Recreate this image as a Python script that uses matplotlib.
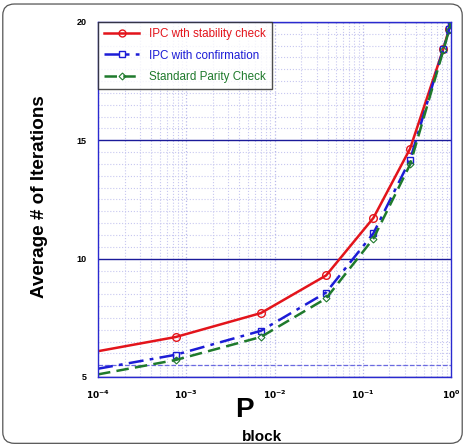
import numpy as np
import matplotlib.pyplot as plt
from matplotlib.patches import FancyBboxPatch
from matplotlib.ticker import FixedLocator, MultipleLocator, LogLocator, NullFormatter

plt.rcParams['font.family'] = ['Liberation Sans', 'DejaVu Sans']

# values
p_block = [1e-4, 7.6e-4, 7.0e-3, 0.0384, 0.132, 0.344, 0.818, 0.95, 1.0]
iters_stability = [6.09, 6.69, 7.70, 9.29, 11.72, 14.65, 18.86, 19.70, 20.0]
iters_confirm = [5.35, 5.94, 6.95, 8.57, 11.07, 14.18, 18.86, 19.70, 20.0]
iters_standard = [5.11, 5.72, 6.69, 8.32, 10.85, 13.98, 18.80, 19.66, 20.0]
labels = ['IPC wth stability check', 'IPC with confirmation', 'Standard Parity Check']
ref_level = 5.5

red = '#e3141b'
blue = '#1c1cd6'
green = '#1f7a2c'
navy = '#1a1a9a'

fig = plt.figure(figsize=(4.65, 4.46), dpi=100)
ax = fig.add_axes([98 / 465, 1 - 377 / 446, 353 / 465, 355 / 446])

# rounded frame round the figure
fig.patches.append(FancyBboxPatch((0.006, 0.006), 0.988, 0.985, boxstyle='round,pad=0,rounding_size=0.025',
                                  transform=fig.transFigure, fill=False, ec='#555555', lw=0.9))

ax.plot(p_block[1:-1], iters_stability[1:-1], ls='none', marker='o', ms=5.5, mfc='none', mec=red, mew=1)
ax.plot(p_block, iters_stability, color=red, lw=1.8, label=labels[0])
ax.plot(p_block, iters_confirm, color=blue, lw=1.8, ls=(0, (6, 2.5, 1.5, 2.5)), marker='s', ms=5, mfc='none',
        mec=blue, mew=1, markevery=list(range(1, len(p_block))), label=labels[1])
ax.plot(p_block, iters_standard, color=green, lw=1.8, ls=(0, (5, 2.5)), marker='D', ms=3.5, mfc='none',
        mec=green, mew=0.8, markevery=list(range(1, len(p_block))), label=labels[2])

ax.set_xscale('log')
ax.set_xlim(1e-4, 1)
ax.set_ylim(5, 20)

ax.xaxis.set_major_locator(LogLocator(base=10, numticks=10))
ax.xaxis.set_minor_locator(LogLocator(base=10, subs=np.arange(2, 10), numticks=10))
ax.xaxis.set_minor_formatter(NullFormatter())
ax.set_xticks([1e-4, 1e-3, 1e-2, 1e-1, 1])
ax.set_xticklabels([r'$\mathbf{10^{-4}}$', r'$\mathbf{10^{-3}}$', r'$\mathbf{10^{-2}}$',
                    r'$\mathbf{10^{-1}}$', r'$\mathbf{10^{0}}$'])
ax.yaxis.set_major_locator(FixedLocator([5, 10, 15, 20]))
ax.yaxis.set_minor_locator(MultipleLocator(0.5))

ax.grid(which='minor', color='#c8c8f0', ls=':', lw=0.8)
ax.grid(which='major', axis='x', color='#b8b8ea', ls=':', lw=0.9)
ax.grid(which='major', axis='y', color=navy, ls='-', lw=1.0)
ax.axhline(ref_level, color='#6a6ae0', ls='--', lw=0.9, zorder=1)
ax.set_axisbelow(True)

for s in ax.spines.values():
    s.set_color('#2a2ad0')
    s.set_linewidth(1.0)

ax.tick_params(which='both', length=0)
ax.tick_params(axis='x', labelsize=6.5, pad=8)
ax.tick_params(axis='y', labelsize=6.5, pad=8)
for t in ax.get_yticklabels():
    t.set_fontweight('bold')

fig.text(40 / 465, 1 - 197 / 446, 'Average # of Iterations', rotation=90, ha='center', va='center',
         fontsize=13.6, fontweight='bold')
fig.text(244 / 465, 1 - 410 / 446, 'P', ha='center', va='center', fontsize=20, fontweight='bold')
fig.text(262 / 465, 1 - 437 / 446, 'block', ha='center', va='center', fontsize=11, fontweight='bold')

leg = ax.legend(loc='upper left', bbox_to_anchor=(0.0, 1.0), fontsize=8.4, frameon=True, fancybox=False,
                borderpad=0.55, handlelength=3.0, labelspacing=0.78, borderaxespad=0.0)
leg.get_frame().set_edgecolor('#222222')
leg.get_frame().set_linewidth(1.0)
for txt, c in zip(leg.get_texts(), [red, blue, green]):
    txt.set_color(c)
# legend handle for the red curve needs a marker too
leg.legend_handles[0].set_marker('o')
leg.legend_handles[0].set_markerfacecolor('none')
leg.legend_handles[0].set_markeredgecolor(red)
leg.legend_handles[0].set_markersize(5)

fig.savefig('out.png', dpi=100)
